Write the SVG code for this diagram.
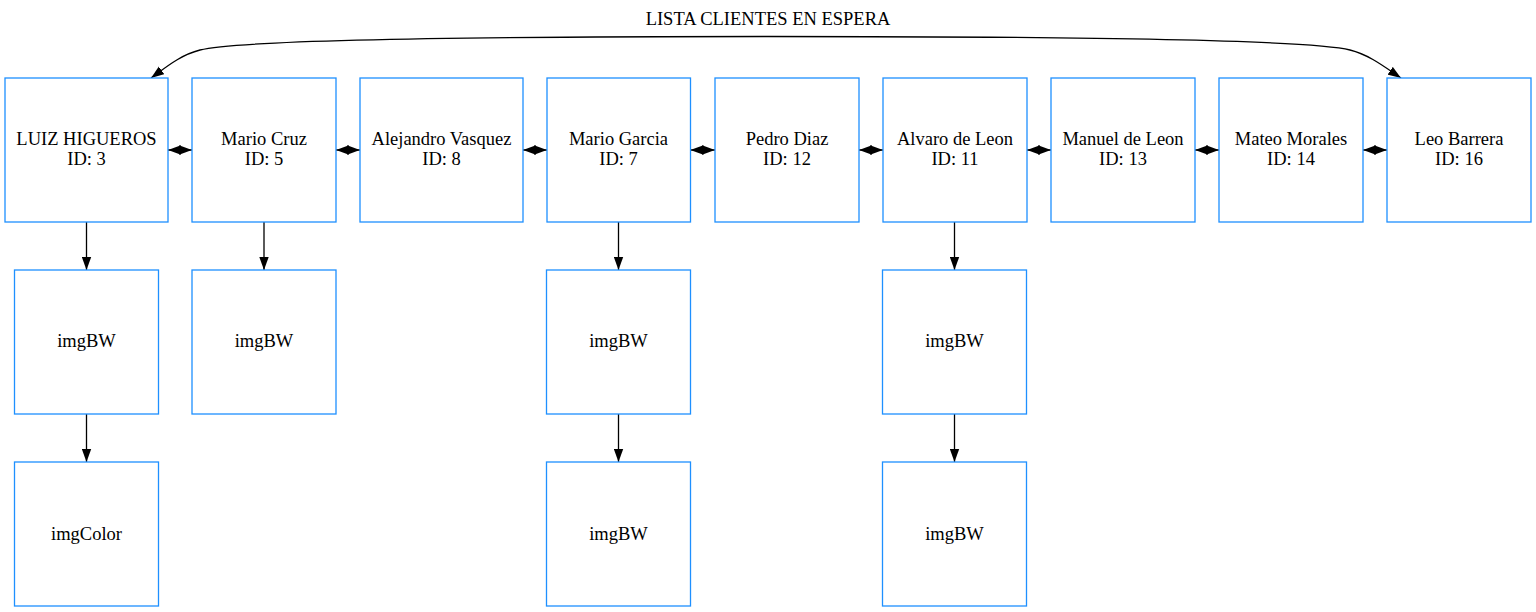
<svg xmlns="http://www.w3.org/2000/svg" width="1536" height="612" viewBox="0 0 1536 612">
<style>
  .box { fill: #ffffff; stroke: #1E90FF; stroke-width: 1.3; }
  .lbl { font-family: 'Liberation Serif', 'DejaVu Serif', serif; font-size: 18.5px; fill: #000000; text-anchor: middle; }
  .edge { fill: none; stroke: #000000; stroke-width: 1.3; }
  .dbl { marker-start: url(#arr); marker-end: url(#arr); }
  .one { marker-end: url(#arr); }
</style>
<defs>
  <marker id="arr" viewBox="0 0 13 10" refX="13" refY="5" markerWidth="13" markerHeight="10" markerUnits="userSpaceOnUse" orient="auto-start-reverse">
    <path d="M0,0.3 L13,5 L0,9.7 z" fill="#000000"/>
  </marker>
</defs>
<rect x="0" y="0" width="1536" height="612" fill="#ffffff"/>

<text class="lbl" font-family="Liberation Serif, serif" x="768" y="24.5">LISTA CLIENTES EN ESPERA</text>

<g id="connectors">
  <path class="edge dbl" d="M151,78 C165,68 180,55 200,50 C235,41 400,36.5 768,36.5 C1136,36.5 1315,41 1350,50 C1370,55 1386,68 1401,78"/>
  <line class="edge dbl" x1="168" y1="150" x2="192" y2="150"/>
  <line class="edge dbl" x1="336" y1="150" x2="360" y2="150"/>
  <line class="edge dbl" x1="523" y1="150" x2="547" y2="150"/>
  <line class="edge dbl" x1="690.5" y1="150" x2="715" y2="150"/>
  <line class="edge dbl" x1="859" y1="150" x2="883" y2="150"/>
  <line class="edge dbl" x1="1027" y1="150" x2="1051" y2="150"/>
  <line class="edge dbl" x1="1195" y1="150" x2="1219" y2="150"/>
  <line class="edge dbl" x1="1363" y1="150" x2="1387" y2="150"/>
  <line class="edge one" x1="86.5" y1="222" x2="86.5" y2="270"/>
  <line class="edge one" x1="86.5" y1="414" x2="86.5" y2="462"/>
  <line class="edge one" x1="264" y1="222" x2="264" y2="270"/>
  <line class="edge one" x1="618.5" y1="222" x2="618.5" y2="270"/>
  <line class="edge one" x1="618.5" y1="414" x2="618.5" y2="462"/>
  <line class="edge one" x1="954.5" y1="222" x2="954.5" y2="270"/>
  <line class="edge one" x1="954.5" y1="414" x2="954.5" y2="462"/>
</g>

<g class="lbl" font-family="Liberation Serif, serif">
<g id="n_luiz"><rect class="box" x="5" y="78" width="163" height="144"/><text x="86.5" y="145">LUIZ HIGUEROS</text><text x="86.5" y="165">ID: 3</text></g>
<g id="n_mariocruz"><rect class="box" x="192" y="78" width="144" height="144"/><text x="264" y="145">Mario Cruz</text><text x="264" y="165">ID: 5</text></g>
<g id="n_alejandro"><rect class="box" x="360" y="78" width="163" height="144"/><text x="441.5" y="145">Alejandro Vasquez</text><text x="441.5" y="165">ID: 8</text></g>
<g id="n_mariogarcia"><rect class="box" x="547" y="78" width="143.5" height="144"/><text x="618.5" y="145">Mario Garcia</text><text x="618.5" y="165">ID: 7</text></g>
<g id="n_pedro"><rect class="box" x="715" y="78" width="144" height="144"/><text x="787" y="145">Pedro Diaz</text><text x="787" y="165">ID: 12</text></g>
<g id="n_alvaro"><rect class="box" x="883" y="78" width="144" height="144"/><text x="955" y="145">Alvaro de Leon</text><text x="955" y="165">ID: 11</text></g>
<g id="n_manuel"><rect class="box" x="1051" y="78" width="144" height="144"/><text x="1123" y="145">Manuel de Leon</text><text x="1123" y="165">ID: 13</text></g>
<g id="n_mateo"><rect class="box" x="1219" y="78" width="144" height="144"/><text x="1291" y="145">Mateo Morales</text><text x="1291" y="165">ID: 14</text></g>
<g id="n_leo"><rect class="box" x="1387" y="78" width="144" height="144"/><text x="1459" y="145">Leo Barrera</text><text x="1459" y="165">ID: 16</text></g>

<g id="n_luiz_bw"><rect class="box" x="14.5" y="270" width="144" height="144"/><text x="86.5" y="347">imgBW</text></g>
<g id="n_luiz_color"><rect class="box" x="14.5" y="462" width="144" height="144"/><text x="86.5" y="539.5">imgColor</text></g>
<g id="n_mariocruz_bw"><rect class="box" x="192" y="270" width="144" height="144"/><text x="264" y="347">imgBW</text></g>
<g id="n_mariogarcia_bw1"><rect class="box" x="546.5" y="270" width="144" height="144"/><text x="618.5" y="347">imgBW</text></g>
<g id="n_mariogarcia_bw2"><rect class="box" x="546.5" y="462" width="144" height="144"/><text x="618.5" y="539.5">imgBW</text></g>
<g id="n_alvaro_bw1"><rect class="box" x="882.5" y="270" width="144" height="144"/><text x="954.5" y="347">imgBW</text></g>
<g id="n_alvaro_bw2"><rect class="box" x="882.5" y="462" width="144" height="144"/><text x="954.5" y="539.5">imgBW</text></g>
</g>
</svg>
